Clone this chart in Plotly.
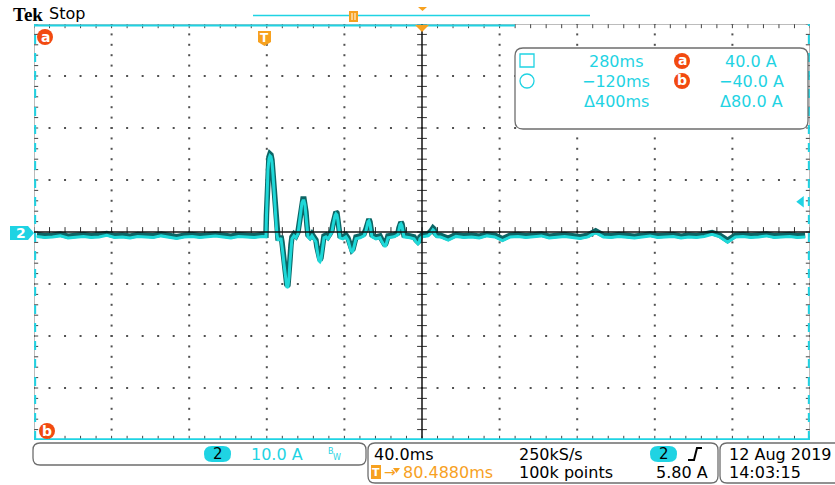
import numpy as np
import plotly.graph_objects as go

# ---------------- data ----------------
time_per_div_ms = 40.0
amps_per_div = 10.0
trigger_delay_ms = 80.488
trigger_level_a = 5.80
sample_rate_txt = "250kS/s"
record_txt = "100k points"
date_txt = "12 Aug 2019"
clock_txt = "14:03:15"
cursor_t_ms = [280.0, -120.0]
cursor_a = [40.0, -40.0]

pre_t = [-118, -114, -110, -106, -102, -98, -94, -90, -86, -82, -78, -74, -70, -66, -62,
         -58, -54, -50, -46, -42, -38, -34, -30, -26, -22, -18, -14, -10, -6, -2]
pre_a = [-0.5, -0.7, -0.6, -0.4, -0.8, -0.6, -0.5, -0.7, -0.6, -0.3, -0.7, -0.6, -0.8, -0.5, -0.6,
         -0.7, -0.4, -0.6, -0.9, -0.6, -0.5, -0.7, -0.6, -0.4, -0.6, -0.8, -0.5, -0.6, -0.7, -0.5]

ring_t = [0.05, 0.31, 0.57, 1.08, 1.60, 2.11, 2.63, 3.14, 3.66, 4.18, 4.69, 5.21, 5.72, 6.24,
          7.27, 7.78, 8.30, 8.81, 9.33, 9.85, 10.36, 10.88, 11.39, 11.91, 12.42, 12.94, 13.45,
          14.49, 15.52, 16.55, 17.06, 17.58, 18.09, 18.61, 19.12, 19.64, 20.16, 20.67, 21.19,
          21.70, 22.73, 23.76, 24.79, 25.82, 26.34, 26.86, 27.37, 27.89, 28.40, 28.92, 29.44,
          29.95, 30.98, 32.01, 33.04, 34.07, 34.59, 35.10, 35.62, 36.14, 36.65, 37.17, 37.68,
          38.20, 39.74, 41.29, 42.32, 42.84, 43.35, 43.87, 44.38, 44.90, 45.42, 45.93, 46.45,
          48.51, 50.57, 51.60, 52.12, 52.64, 53.15, 53.67, 54.18, 54.70, 56.76, 58.83, 59.86,
          60.89, 61.41, 61.92, 62.44, 62.95, 66.05, 68.11, 68.62, 69.14, 69.66, 70.17, 70.69,
          71.20, 74.30, 76.36, 77.39, 78.42, 78.94, 79.45, 80.48, 83.58, 85.12, 86.15, 86.67,
          87.18, 88.21]
ring_a = [-0.58, 3.27, 7.12, 12.31, 14.42, 15.0, 14.81, 13.85, 11.54, 8.65, 4.81, 1.92, -0.19, -1.15,
          -1.15, -0.77, -1.92, -3.85, -5.77, -7.69, -9.42, -10.38, -10.19, -8.46, -5.38, -2.5, -0.96,
          -0.38, -0.77, 0.0, 1.35, 3.27, 4.81, 5.96, 6.35, 6.35, 5.58, 3.85, 1.35,
          -0.58, -0.96, -0.38, -0.96, -1.54, -2.88, -4.23, -5.19, -5.38, -5.0, -3.65, -1.92,
          -0.77, -0.58, -0.96, -0.38, 0.38, 1.54, 2.69, 3.46, 3.85, 3.65, 2.5, 0.77,
          -0.77, -0.96, -0.58, -1.15, -1.92, -2.69, -3.27, -3.46, -3.27, -2.5, -1.54, -0.96,
          -0.77, -0.38, 0.58, 1.54, 2.31, 2.5, 1.92, 0.58, -0.58, -0.96, -0.77, -1.54,
          -2.31, -2.5, -2.12, -1.35, -0.77, -0.58, -0.19, 0.77, 1.73, 1.92, 1.54, 0.38,
          -0.58, -0.77, -0.96, -1.54, -1.92, -1.73, -0.96, -0.58, -0.38, 0.19, 0.77, 0.58,
          -0.19, -0.58]

post_t = [90, 94, 98, 102, 106, 110, 114, 118, 122, 126, 130, 134, 138, 142, 146, 150,
          154, 158, 162, 166, 170, 174, 178, 182, 186, 190, 194, 198, 202, 206, 210, 214,
          218, 222, 226, 230, 234, 238, 242, 246, 250, 254, 258, 262, 266, 270, 274, 278]
post_a = [-0.6, -1.2, -0.5, -0.7, -0.6, -0.8, -0.4, -0.6, -1.3, -0.6, -0.5, -0.7, -0.6, -0.4, -0.8, -0.6,
          -0.5, -0.7, -0.9, -0.6, 0.2, -0.6, -0.7, -0.5, -0.6, -0.8, -0.6, -0.4, -0.7, -0.6, -0.5, -0.8,
          -0.6, -0.7, -0.5, -0.1, -0.6, -1.6, -0.6, -0.5, -0.7, -0.6, -0.4, -0.7, -0.6, -0.5, -0.7, -0.6]

t_ms = pre_t + ring_t + post_t
i_a = pre_a + ring_a + post_a

# ---------------- styling ----------------
W, H = 835, 485
PX0, PX1, PY0, PY1 = 34, 810, 24, 440     # plot area in pixels
CYAN = "#1fd3e3"
TRACE_CYAN = "#1ed8d8"
TRACE_DARK = "#0d6565"
ORANGE = "#f7a11f"
RED = "#f24a10"
GRAY = "#6e6e6e"
FONT = "DejaVu Sans"

x0 = trigger_delay_ms - 5 * time_per_div_ms
x1 = trigger_delay_ms + 5 * time_per_div_ms
y0 = -4 * amps_per_div
y1 = 4 * amps_per_div
xc = trigger_delay_ms

fig = go.Figure()

# graticule dots
minor_x = x0 + np.arange(0, 51) * time_per_div_ms / 5
minor_y = y0 + np.arange(0, 41) * amps_per_div / 5
gx, gy = [], []
for k in range(1, 10):
    if k == 5:
        continue
    xv = x0 + k * time_per_div_ms
    gx += [xv] * len(minor_y)
    gy += list(minor_y)
for k in range(1, 8):
    if k == 4:
        continue
    yv = y0 + k * amps_per_div
    gx += list(minor_x)
    gy += [yv] * len(minor_x)
fig.add_trace(go.Scatter(x=gx, y=gy, mode="markers", hoverinfo="skip",
                         marker=dict(symbol="square", size=2, color="#505050", line=dict(width=0))))

# center-line and border ticks
fig.add_trace(go.Scatter(x=[xc] * len(minor_y), y=list(minor_y), mode="markers", hoverinfo="skip",
                         marker=dict(symbol="line-ew", size=7, line=dict(width=1, color="#333"))))
fig.add_trace(go.Scatter(x=list(minor_x), y=[0] * len(minor_x), mode="markers", hoverinfo="skip",
                         marker=dict(symbol="line-ns", size=7, line=dict(width=1, color="#333"))))
fig.add_trace(go.Scatter(x=list(minor_x) * 2, y=[y1] * len(minor_x) + [y0] * len(minor_x),
                         mode="markers", hoverinfo="skip",
                         marker=dict(symbol="line-ns", size=6, line=dict(width=1, color="#444"))))
fig.add_trace(go.Scatter(x=[x0] * len(minor_y) + [x1] * len(minor_y), y=list(minor_y) * 2,
                         mode="markers", hoverinfo="skip",
                         marker=dict(symbol="line-ew", size=6, line=dict(width=1, color="#444"))))

# waveform: dark upper edge + cyan body (display envelope look)
band_shift = 0.35 * amps_per_div / 10
fig.add_trace(go.Scatter(x=t_ms, y=i_a, mode="lines", hoverinfo="skip",
                         line=dict(color=TRACE_DARK, width=5.5)))
fig.add_trace(go.Scatter(x=t_ms, y=[v - band_shift for v in i_a], mode="lines", hoverinfo="skip",
                         line=dict(color=TRACE_CYAN, width=3)))

# trigger level arrow
fig.add_trace(go.Scatter(x=[x1 - 4.5], y=[trigger_level_a], mode="markers", hoverinfo="skip",
                         cliponaxis=False,
                         marker=dict(symbol="triangle-left", size=10, color=CYAN, line=dict(width=0))))

# overlay subplot (pixel coordinates)
fig.add_trace(go.Scatter(x=[0], y=[0], xaxis="x2", yaxis="y2", mode="markers",
                         marker=dict(opacity=0), hoverinfo="skip"))

shapes = []
# plot border
shapes.append(dict(type="rect", xref="x", yref="y", x0=x0, x1=x1, y0=y0, y1=y1,
                   line=dict(color="#7a7a7a", width=1), layer="above"))
# center lines
shapes.append(dict(type="line", xref="x", yref="y", x0=xc, x1=xc, y0=y0, y1=y1,
                   line=dict(color="#111", width=1.5), layer="above"))
shapes.append(dict(type="line", xref="x", yref="y", x0=x0, x1=x1, y0=0, y1=0,
                   line=dict(color="#111", width=1.5), layer="above"))
# vertical cursors
for ct in cursor_t_ms:
    cx = min(max(ct, x0 + 0.6), x1 - 0.6)
    shapes.append(dict(type="line", xref="x", yref="y", x0=cx, x1=cx, y0=y0, y1=y1,
                       line=dict(color=CYAN, width=2, dash="dash"), layer="above"))
# horizontal cursor b (bottom)
shapes.append(dict(type="line", xref="x", yref="y", x0=x0, x1=x1, y0=cursor_a[1] + 0.15,
                   y1=cursor_a[1] + 0.15, line=dict(color=CYAN, width=2), layer="above"))


def P(x0_, y0_, x1_, y1_, **kw):
    d = dict(xref="x2", yref="y2", x0=x0_, y0=y0_, x1=x1_, y1=y1_, layer="above")
    d.update(kw)
    return d


def rrect(a, b, c, d, r):
    return (f"M{a+r},{b} L{c-r},{b} Q{c},{b} {c},{b+r} L{c},{d-r} Q{c},{d} {c-r},{d} "
            f"L{a+r},{d} Q{a},{d} {a},{d-r} L{a},{b+r} Q{a},{b} {a+r},{b} Z")


def path(p, **kw):
    d = dict(type="path", xref="x2", yref="y2", path=p, layer="above")
    d.update(kw)
    return d


# horizontal cursor a (top, partial)
shapes.append(P(PX0, 25.5, 515, 25.5, type="line", line=dict(color=CYAN, width=2)))
# record view bar
shapes.append(P(253, 15.5, 590, 15.5, type="line", line=dict(color=CYAN, width=1.5)))
shapes.append(P(349, 11, 358, 22, type="rect", fillcolor=ORANGE, line=dict(width=0)))
shapes.append(P(352, 13, 352, 20, type="line", line=dict(color="white", width=1)))
shapes.append(P(355, 13, 355, 20, type="line", line=dict(color="white", width=1)))
shapes.append(path("M418,7 L427,7 L422.5,11 Z", fillcolor=ORANGE, line=dict(width=0)))
# expansion point triangle on top border
shapes.append(path("M415,25 L429,25 L422,32 Z", fillcolor=ORANGE, line=dict(width=0)))
# trigger position badge
shapes.append(path("M258,31 L271,31 L271,42 L264.5,46 L258,42 Z", fillcolor=ORANGE, line=dict(width=0)))
# channel 2 ground marker
shapes.append(path("M10,226 L28,226 L34,233 L28,240 L10,240 Z", fillcolor=CYAN, line=dict(width=0)))
# cursor marker circles a/b
shapes.append(P(37, 29, 53, 45, type="circle", fillcolor=RED, line=dict(width=0)))
shapes.append(P(39, 423, 55, 439, type="circle", fillcolor=RED, line=dict(width=0)))
# readout box
shapes.append(path(rrect(515, 48, 808, 129, 8), fillcolor="white", line=dict(color=GRAY, width=1.3)))
shapes.append(P(520, 54, 534, 67, type="rect", line=dict(color=CYAN, width=1.3)))
shapes.append(P(520, 74, 534, 88, type="circle", line=dict(color=CYAN, width=1.3)))
shapes.append(P(674, 53, 690, 69, type="circle", fillcolor=RED, line=dict(width=0)))
shapes.append(P(674, 73, 690, 89, type="circle", fillcolor=RED, line=dict(width=0)))
# bottom boxes
shapes.append(path(rrect(33, 443, 366, 465, 7), fillcolor="white", line=dict(color=GRAY, width=1.3)))
shapes.append(path(rrect(368, 443, 718, 483, 7), fillcolor="white", line=dict(color=GRAY, width=1.3)))
shapes.append(path(rrect(720, 443, 848, 483, 7), fillcolor="white", line=dict(color=GRAY, width=1.3)))
shapes.append(path(rrect(204, 446, 231, 462, 8), fillcolor=CYAN, line=dict(width=0)))
shapes.append(path(rrect(650, 446, 677, 462, 8), fillcolor=CYAN, line=dict(width=0)))
shapes.append(path("M688,460 L694,460 L697,448 L702,448", line=dict(color="black", width=2)))
shapes.append(P(371, 465, 381, 479, type="rect", fillcolor=ORANGE, line=dict(width=0)))
shapes.append(path("M393,468 L400,468 L396.5,473 Z", fillcolor=ORANGE, line=dict(width=0)))

ann = []


def T(x, y, text, color="black", size=16, xa="center", family=FONT, bold=False):
    if bold:
        text = f"<b>{text}</b>"
    ann.append(dict(xref="x2", yref="y2", x=x, y=y, text=text, showarrow=False,
                    xanchor=xa, yanchor="middle", font=dict(family=family, size=size, color=color)))


T(11, 14, "Tek", size=19, xa="left", family="Liberation Serif", bold=True)
T(47, 13, "Stop", size=16, xa="left")
T(264.5, 38, "T", color="white", size=12, bold=True)
T(21, 233, "2", color="white", size=14, bold=True)
T(45, 37, "a", color="white", size=14, bold=True)
T(47, 431, "b", color="white", size=14, bold=True)

# cursor readout
T(616, 61, f"{cursor_t_ms[0]:.0f}ms", color=CYAN)
T(616, 81, f"\u2212{abs(cursor_t_ms[1]):.0f}ms", color=CYAN)
T(616, 101, f"\u0394{cursor_t_ms[0] - cursor_t_ms[1]:.0f}ms", color=CYAN)
T(682, 60, "a", color="white", size=14, bold=True)
T(682, 80, "b", color="white", size=14, bold=True)
T(751, 61, f"{cursor_a[0]:.1f} A", color=CYAN)
T(751, 81, f"\u2212{abs(cursor_a[1]):.1f} A", color=CYAN)
T(751, 101, f"\u0394{cursor_a[0] - cursor_a[1]:.1f} A", color=CYAN)

# bottom status
T(217.5, 454, "2", color="black", size=15)
T(249, 454, f"{amps_per_div:.1f} A", color=CYAN, xa="left")
T(326, 451, "B", color=CYAN, size=8, xa="left")
T(331, 457, "W", color=CYAN, size=8, xa="left")
T(372, 454, f"{time_per_div_ms:.1f}ms", xa="left")
T(517, 454, sample_rate_txt, xa="left")
T(663.5, 454, "2", color="black", size=15)
T(376, 472, "T", color="white", size=11, bold=True)
T(382, 472, "\u2192", color=ORANGE, size=14, xa="left")
T(401, 472, f"{trigger_delay_ms:.4f}ms", color=ORANGE, xa="left")
T(517, 472, record_txt, xa="left")
T(710, 472, f"{trigger_level_a:.2f} A", xa="right")
T(727, 454, date_txt, xa="left")
T(727, 472, clock_txt, xa="left")

fig.update_layout(
    width=W, height=H, margin=dict(l=0, r=0, t=0, b=0), autosize=False,
    paper_bgcolor="white", plot_bgcolor="rgba(0,0,0,0)", showlegend=False,
    xaxis=dict(domain=[PX0 / W, PX1 / W], range=[x0, x1], visible=False, fixedrange=True),
    yaxis=dict(domain=[(H - PY1) / H, (H - PY0) / H], range=[y0, y1], visible=False, fixedrange=True),
    xaxis2=dict(domain=[0, 1], range=[0, W], visible=False, anchor="y2", fixedrange=True),
    yaxis2=dict(domain=[0, 1], range=[H, 0], visible=False, anchor="x2", fixedrange=True),
    shapes=shapes, annotations=ann,
)
fig.write_html("out.html", config=dict(displayModeBar=False),
               post_script="document.body.style.margin='0px';document.body.style.overflow='hidden';")
